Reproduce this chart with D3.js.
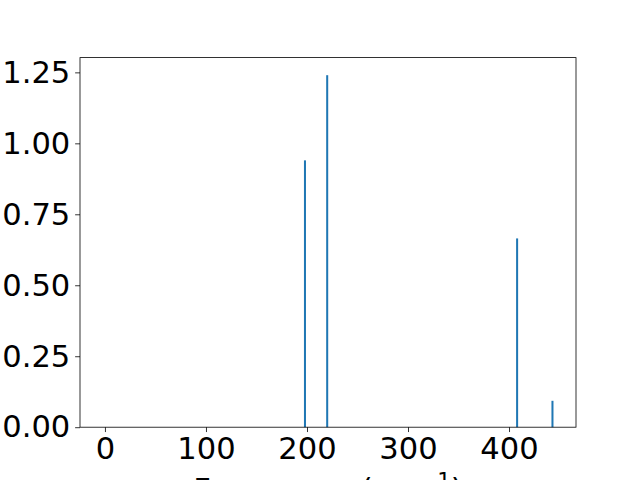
<!DOCTYPE html>
<html><head><meta charset="utf-8">
<script src="https://cdn.jsdelivr.net/npm/d3@7"></script>
<style>body{margin:0;background:#fff}svg{display:block}text{font-family:"DejaVu Sans",sans-serif}</style>
</head><body>
<script>
const frequencies = [198, 220, 408, 443];
const intensities = [0.94, 1.24, 0.665, 0.093];
const xTicks = [0, 100, 200, 300, 400];
const yTicks = [0, 0.25, 0.5, 0.75, 1.0, 1.25];
const xLabel = "Frequency (cm";

const W = 640, H = 480;
const m = {l: 80, r: 576, t: 57.6, b: 427.2};
const svg = d3.select("body").append("svg").attr("width", W).attr("height", H);
const x = d3.scaleLinear().domain([-24.7, 466.3]).range([m.l, m.r]);
const y = d3.scaleLinear().domain([0, 1.24 * 1.05]).range([m.b, m.t]);

svg.append("g").selectAll("rect").data(frequencies).join("rect")
  .attr("x", (d) => x(d - 1)).attr("width", (d) => x(d + 1) - x(d - 1))
  .attr("y", (d, i) => y(intensities[i])).attr("height", (d, i) => y(0) - y(intensities[i]))
  .attr("fill", "#1f77b4");

const fs = 30.56;
const xa = svg.append("g").attr("transform", `translate(0,${m.b})`)
  .call(d3.axisBottom(x).tickValues(xTicks).tickSize(4.86).tickPadding(4.86).tickFormat(d3.format("d")));
const ya = svg.append("g").attr("transform", `translate(${m.l},0)`)
  .call(d3.axisLeft(y).tickValues(yTicks).tickSize(4.86).tickPadding(4.86).tickFormat(d3.format(".2f")));
[xa, ya].forEach(g => {
  g.select(".domain").remove();
  g.selectAll(".tick line").attr("stroke", "#000").attr("stroke-width", 0.8);
  g.selectAll(".tick text").attr("font-size", fs).attr("fill", "#000").style("font-family", "DejaVu Sans");
});

svg.append("rect").attr("x", m.l).attr("y", m.t).attr("width", m.r - m.l).attr("height", m.b - m.t)
  .attr("fill", "none").attr("stroke", "#000").attr("stroke-width", 0.8);

const lab = svg.append("text").attr("x", (m.l + m.r) / 2).attr("y", 500)
  .attr("text-anchor", "middle").attr("font-size", fs).attr("fill", "#000");
lab.append("tspan").text(xLabel);
lab.append("tspan").attr("dy", -12).attr("font-size", fs * 0.7).text("\u22121");
lab.append("tspan").attr("dy", 12).text(")");
</script>
</body></html>
